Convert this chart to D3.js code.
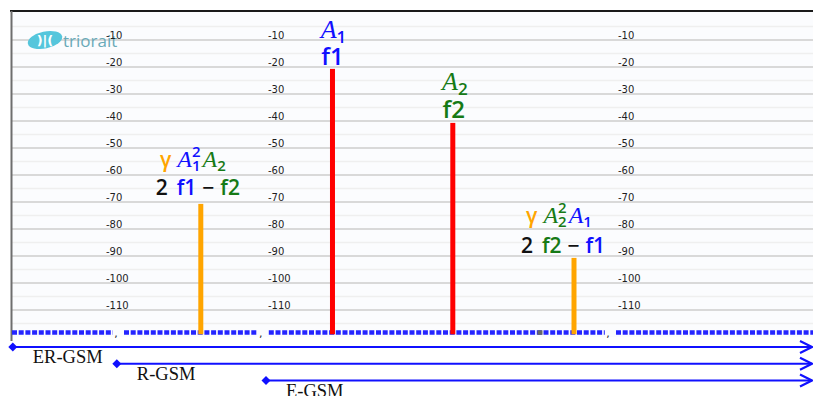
<!DOCTYPE html>
<html><head><meta charset="utf-8">
<script src="https://cdn.jsdelivr.net/npm/d3@7"></script>
<style>
html,body{margin:0;padding:0;background:#fff;}
svg{display:block;}
</style></head>
<body>
<svg id="c" width="813" height="396"></svg>
<script>
// ---------- data ----------
const majorTicks = [-10,-20,-30,-40,-50,-60,-70,-80,-90,-100,-110];
const minorTicks = [-5,-15,-25,-35,-45,-55,-65,-75,-85,-95,-105,-115];
const tickLabelCols = [11.75, 32.0, 75.75];          // frequency units where tick label columns sit
const toneNames  = ["2f1-f2","f1","f2","2f2-f1"];
const toneFreq   = [23.6, 40.06, 55.1, 70.25];
const toneLevel  = [-70.7, -20.7, -40.7, -90.7];
const bandNames  = ["ER-GSM","R-GSM","E-GSM"];
const bandStart  = [0.1, 13.1, 31.75];
const bandEnd    = [100, 100, 100];
const axisSegStart = [0, 14.0, 32.1, 75.5];
const axisSegEnd   = [12.6, 30.75, 74.1, 100.2];
const axisSeparators = [13.0, 31.1, 74.5];
const grayMarker = [66.0];

// ---------- styles / layout ----------
const BLUE = "#1010ff", GREEN = "#167a16", ORANGE = "#ffa500", RED = "#ff0000";
const toneColor = {"2f1-f2": ORANGE, "f1": RED, "f2": RED, "2f2-f1": ORANGE};

const svg = d3.select("#c");
const x = d3.scaleLinear().domain([0, 100]).range([12, 812]);
const y = d3.scaleLinear().domain([-120, 0]).range([337, 13]);

// plot background
svg.append("rect").attr("x", 12).attr("y", 12).attr("width", 801).attr("height", 325).attr("fill", "#fbfcfe");

// minor grid
svg.append("g").selectAll("line").data(minorTicks).join("line")
  .attr("x1", x(0)).attr("x2", 813).attr("y1", d => y(d)).attr("y2", d => y(d))
  .attr("stroke", "#efefef").attr("stroke-width", 1.5);
// major grid
svg.append("g").selectAll("line").data(majorTicks).join("line")
  .attr("x1", x(0)).attr("x2", 813).attr("y1", d => y(d)).attr("y2", d => y(d))
  .attr("stroke", "#d9d9d9").attr("stroke-width", 2);

// frame
svg.append("line").attr("x1", 10).attr("x2", 813).attr("y1", 11).attr("y2", 11).attr("stroke", "#1a1a1a").attr("stroke-width", 2);
svg.append("line").attr("x1", 11.5).attr("x2", 11.5).attr("y1", 11).attr("y2", 341).attr("stroke", "#6e6e6e").attr("stroke-width", 2);

// logo
const logo = svg.append("g");
logo.append("ellipse").attr("cx", 45).attr("cy", 40).attr("rx", 17.5).attr("ry", 8.5)
  .attr("transform", "rotate(-12 45 40)").attr("fill", "#55c6dc");
logo.append("text").attr("x", 45).attr("y", 45).attr("text-anchor", "middle")
  .attr("font-family", "DejaVu Sans").attr("font-weight", "bold").attr("font-size", 13)
  .attr("fill", "#fff").text(")|(");
logo.append("text").attr("x", 63).attr("y", 47)
  .attr("font-family", "Open Sans").attr("font-size", 17).attr("fill", "#6aaab8").text("triorait");

// tick label columns
tickLabelCols.forEach(c => {
  svg.append("g").selectAll("text").data(majorTicks).join("text")
    .attr("x", x(c)).attr("y", d => y(d) - 1)
    .attr("font-family", "DejaVu Sans").attr("font-size", 10).attr("fill", "#1e1e1e")
    .text(d => String(d));
});

// frequency baseline (dotted blue)
svg.append("g").selectAll("line").data(axisSegStart).join("line")
  .attr("x1", d => x(d)).attr("x2", (d, i) => x(axisSegEnd[i]))
  .attr("y1", 332.5).attr("y2", 332.5)
  .attr("stroke", "#2424ff").attr("stroke-width", 4.5).attr("stroke-dasharray", "5,1.7");
svg.append("g").selectAll("rect").data(grayMarker).join("rect")
  .attr("x", d => x(d) - 2.5).attr("y", 330.3).attr("width", 5).attr("height", 4.5).attr("fill", "#666");
svg.append("g").selectAll("text").data(axisSeparators).join("text")
  .attr("x", d => x(d)).attr("y", 337).attr("text-anchor", "middle")
  .attr("font-family", "DejaVu Sans").attr("font-size", 11).attr("fill", "#222").text(",");

// tone bars
svg.append("g").selectAll("rect").data(toneNames).join("rect")
  .attr("x", (d, i) => x(toneFreq[i]) - 2.5).attr("width", 5)
  .attr("y", (d, i) => y(toneLevel[i]))
  .attr("height", (d, i) => y(-119) - y(toneLevel[i]))
  .attr("fill", d => toneColor[d]);

// rich text labels
function richLine(cx, baseline, pieces) {
  const g = svg.append("g");
  let cur = 0;
  const mk = (p, xx) => g.append("text").attr("x", xx).attr("y", baseline + (p.dy || 0))
      .attr("font-family", p.font || "Open Sans").attr("font-size", p.size)
      .attr("font-weight", p.font ? "normal" : 600)
      .attr("font-style", p.italic ? "italic" : "normal")
      .attr("fill", p.color).text(p.t);
  pieces.forEach(p => {
    if (p.gap) { cur += p.gap; return; }
    if (p.stack) {
      let w = 0;
      p.stack.forEach(s => { w = Math.max(w, mk(s, cur).node().getComputedTextLength()); });
      cur += w;
      return;
    }
    cur += mk(p, cur).node().getComputedTextLength();
  });
  g.attr("transform", `translate(${cx - cur / 2},0)`);
}
const SERIF = "Liberation Serif";

// 2f1-f2
(function () {
  const i = 0, bx = x(toneFreq[i]), top = y(toneLevel[i]);
  const b2 = top - 9, b1 = b2 - 28;
  richLine(bx - 8, b1, [
    {t: "γ", size: 21, color: ORANGE}, {gap: 6},
    {t: "A", size: 24, italic: true, font: SERIF, color: BLUE},
    {stack: [{t: "2", size: 15, dy: -10, color: BLUE}, {t: "1", size: 15, dy: 4, color: BLUE}]},
    {gap: 2},
    {t: "A", size: 24, italic: true, font: SERIF, color: GREEN},
    {t: "2", size: 15, dy: 4, color: GREEN}
  ]);
  richLine(bx - 3, b2, [
    {t: "2", size: 21, color: "#111"}, {gap: 9},
    {t: "f1", size: 21, color: BLUE}, {gap: 6},
    {t: "−", size: 21, color: "#111"}, {gap: 6},
    {t: "f2", size: 21, color: GREEN}
  ]);
})();
// f1
(function () {
  const i = 1, bx = x(toneFreq[i]), top = y(toneLevel[i]);
  const b2 = top - 4, b1 = b2 - 27;
  richLine(bx + 1, b1, [
    {t: "A", size: 26, italic: true, font: SERIF, color: BLUE},
    {t: "1", size: 17, dy: 5, color: BLUE}
  ]);
  richLine(bx, b2, [{t: "f1", size: 24, color: BLUE}]);
})();
// f2
(function () {
  const i = 2, bx = x(toneFreq[i]), top = y(toneLevel[i]);
  const b2 = top - 5, b1 = b2 - 28;
  richLine(bx + 2, b1, [
    {t: "A", size: 26, italic: true, font: SERIF, color: GREEN},
    {t: "2", size: 17, dy: 5, color: GREEN}
  ]);
  richLine(bx + 1, b2, [{t: "f2", size: 24, color: GREEN}]);
})();
// 2f2-f1
(function () {
  const i = 3, bx = x(toneFreq[i]), top = y(toneLevel[i]);
  const b2 = top - 5, b1 = b2 - 30;
  richLine(bx - 15, b1, [
    {t: "γ", size: 21, color: ORANGE}, {gap: 6},
    {t: "A", size: 24, italic: true, font: SERIF, color: GREEN},
    {stack: [{t: "2", size: 15, dy: -10, color: GREEN}, {t: "2", size: 15, dy: 4, color: GREEN}]},
    {gap: 2},
    {t: "A", size: 24, italic: true, font: SERIF, color: BLUE},
    {t: "1", size: 15, dy: 4, color: BLUE}
  ]);
  richLine(bx - 11, b2, [
    {t: "2", size: 21, color: "#111"}, {gap: 9},
    {t: "f2", size: 21, color: GREEN}, {gap: 6},
    {t: "−", size: 21, color: "#111"}, {gap: 6},
    {t: "f1", size: 21, color: BLUE}
  ]);
})();

// band arrows
const bandY = d3.scalePoint().domain(bandNames).range([347, 380.5]);
const bands = svg.append("g");
bandNames.forEach((name, i) => {
  const yy = bandY(name), x0 = x(bandStart[i]), x1 = x(bandEnd[i]);
  bands.append("line").attr("x1", x0).attr("x2", x1).attr("y1", yy).attr("y2", yy)
    .attr("stroke", BLUE).attr("stroke-width", 2);
  bands.append("path").attr("d", `M${x1 - 12},${yy - 6}L${x1},${yy}L${x1 - 12},${yy + 6}`)
    .attr("fill", "none").attr("stroke", BLUE).attr("stroke-width", 2.2);
  bands.append("path").attr("d", `M${x0},${yy - 4.5}L${x0 + 4.5},${yy}L${x0},${yy + 4.5}L${x0 - 4.5},${yy}Z`)
    .attr("fill", BLUE);
  bands.append("text").attr("x", x0 + 20).attr("y", yy + 16)
    .attr("font-family", SERIF).attr("font-size", 18.5).attr("fill", "#111").text(name);
});
</script>
</body></html>
